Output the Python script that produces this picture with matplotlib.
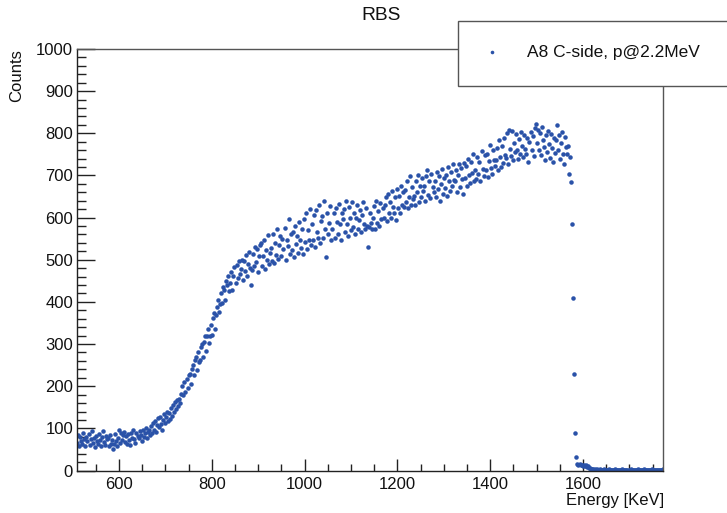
import numpy as np
import matplotlib
matplotlib.use("Agg")
import matplotlib.pyplot as plt
from matplotlib.ticker import MultipleLocator
from matplotlib.patches import Rectangle
from matplotlib.lines import Line2D

plt.rcParams['font.family'] = ['Liberation Sans', 'DejaVu Sans']

# Detector calibration: energy of channel i = E0 + GAIN * i  [keV]
E0 = 510.0
GAIN = 2.2

# Counts per channel
counts_low = [
    66, 84, 58, 79, 71, 62, 88, 74, 57, 80,
    69, 86, 61, 75, 93, 65, 78, 55, 83, 70,
    62, 87, 73, 58, 80, 94, 68, 60, 82, 74,
    77, 57, 84, 64, 73, 52, 63, 86, 70, 59,
    78, 95, 66, 88, 72, 84, 92, 68, 82, 64,
    86, 72, 60, 90, 78, 96, 74, 66, 88, 82,
    76, 93, 84, 70, 97, 80, 89, 100, 78, 92,
    96, 84, 106, 90, 112, 97, 118, 92, 108, 124,
    104, 128, 110, 95, 120, 134, 112, 126, 138, 118,
    136, 122, 148, 130, 156, 138, 162, 146, 168, 152,
]
counts_rise = [
    170, 160, 182, 200, 178, 210, 186, 218, 196, 226,
    230, 206, 242, 250, 226, 262, 270, 238, 280, 258,
    262, 292, 300, 270, 306, 320, 284, 318, 336, 302,
    318, 346, 322, 362, 374, 336, 368, 388, 404, 376,
    394, 420, 398, 436, 428, 404, 450, 440, 462, 426,
    444, 470, 428, 462, 484, 446, 488, 456, 496, 466,
    478, 500, 452, 496, 474, 512, 462, 490, 518, 480,
    440, 476, 514, 486, 530, 494, 526, 470, 508, 536,
]
counts_mid = [
    540, 486, 510, 546, 478, 522, 500, 558, 490, 516,
    528, 498, 562, 492, 540, 512, 572, 502, 534, 556,
    508, 550, 526, 576, 500, 548, 532, 596, 514, 560,
    524, 566, 506, 580, 538, 556, 516, 590, 546, 528,
    572, 514, 596, 542, 612, 526, 570, 548, 620, 536,
    584, 546, 606, 530, 618, 566, 552, 630, 540, 592,
    604, 552, 640, 572, 506, 612, 560, 588, 628, 548,
    574, 610, 552, 622, 590, 560, 632, 584, 548, 612,
    596, 620, 566, 640, 584, 556, 626, 600, 570, 636,
    578, 612, 560, 598, 630, 572, 594, 618, 566, 606,
    637, 586, 572, 622, 580, 530, 578, 610, 588, 574,
    598, 628, 574, 640, 588, 616, 580, 634, 596, 622,
    600, 630, 648, 592, 656, 612, 636, 598, 662, 624,
    610, 648, 594, 668, 622, 652, 612, 676, 630, 660,
]
counts_high = [
    624, 666, 638, 686, 622, 650, 698, 630, 672, 644,
    652, 630, 688, 660, 702, 636, 674, 648, 694, 662,
    676, 640, 698, 712, 654, 686, 646, 704, 672, 660,
    688, 648, 708, 668, 698, 640, 680, 716, 656, 694,
    670, 702, 652, 720, 688, 662, 708, 676, 728, 690,
    686, 712, 660, 702, 726, 672, 718, 692, 656, 730,
    694, 722, 676, 740, 700, 682, 732, 706, 752, 688,
    714, 692, 744, 704, 732, 686, 758, 716, 698, 748,
    712, 752, 696, 734, 772, 718, 704, 760, 736, 722,
    736, 764, 712, 784, 744, 720, 770, 730, 790, 748,
    742, 800, 726, 808, 762, 746, 806, 736, 778, 756,
    798, 760, 738, 786, 752, 804, 770, 744, 796, 762,
    752, 790, 732, 780, 802, 760, 794, 746, 812, 822,
    776, 808, 760, 800, 748, 814, 784, 768, 736, 796,
    756, 806, 774, 742, 798, 766, 732, 790, 754, 784,
    819, 760, 796, 740, 778, 804, 750, 726, 792, 768,
]
counts_edge = [752, 770, 703, 744, 684, 584, 409, 229, 89, 33]
counts_tail = [
    15, 13, 16, 12, 14, 11, 13, 10, 12, 9,
    11, 7, 5, 4, 3, 4, 2, 3, 2, 3,
    2, 1, 3, 2, 1, 2, 3, 1, 2, 2,
    1, 3, 2, 1, 2, 1, 2, 3, 1, 2,
    2, 1, 1, 2, 3, 1, 2, 1, 2, 2,
    1, 2, 3, 1, 2, 1, 1, 2, 2, 3,
    1, 2, 1, 2, 1, 3, 2, 1, 2, 1,
    2, 1, 2, 3, 1, 2, 1, 2, 1, 2,
    1, 2, 2, 1, 3,
]

counts = np.array(counts_low + counts_rise + counts_mid + counts_high
                  + counts_edge + counts_tail, dtype=float)
energy = E0 + GAIN * np.arange(len(counts))

x_ticks = [600, 800, 1000, 1200, 1400, 1600]
y_ticks = [0, 100, 200, 300, 400, 500, 600, 700, 800, 900, 1000]

series_label = "A8 C-side, p@2.2MeV"
title_text = "RBS"
x_title = "Energy [KeV]"
y_title = "Counts"

dot_color = '#2a52a8'

fig = plt.figure(figsize=(7.27, 5.13), dpi=100)
ax = fig.add_axes([0.1063, 0.0828, 0.8061, 0.8217])

ax.plot(energy, counts, linestyle='none', marker='o', ms=3.25,
        mew=0, color=dot_color)

ax.set_xlim(510, 1773)
ax.set_ylim(0, 1000)
ax.set_xticks(x_ticks)
ax.set_yticks(y_ticks)
ax.xaxis.set_minor_locator(MultipleLocator(50))
ax.yaxis.set_minor_locator(MultipleLocator(20))

ax.tick_params(axis='both', which='both', direction='in', color='#222222',
               width=1.0, labelsize=12, labelcolor='#111111')
ax.tick_params(axis='x', which='major', length=9, pad=5)
ax.tick_params(axis='x', which='minor', length=4.8)
ax.tick_params(axis='y', which='major', length=13, pad=3)
ax.tick_params(axis='y', which='minor', length=6.5)
ax.tick_params(top=False, right=False, which='both')
for s in ax.spines.values():
    s.set_linewidth(1.0)
    s.set_color('#222222')
for s in ('top', 'right'):
    ax.spines[s].set_color('#555555')

fig.text(381 / 727, 1 - 16 / 513, title_text, ha='center', va='center',
         fontsize=13.8, color='#111111')
fig.text(17 / 727, 1 - 49 / 513, y_title, rotation=90, ha='center', va='top',
         fontsize=12, color='#111111')
fig.text(664 / 727, 1 - 505 / 513, x_title, ha='right', va='baseline',
         fontsize=12, color='#111111')

# Legend box overlapping the top-right corner of the frame
lx0, ly0 = 458.3 / 727, 1 - 85.7 / 513
lw, lh = 1.0, 65 / 513
box = Rectangle((lx0, ly0), lw, lh, transform=fig.transFigure,
                facecolor='white', edgecolor='#555555', linewidth=1.0,
                zorder=10, clip_on=False)
fig.patches.append(box)
fig.lines.append(Line2D([492.3 / 727], [1 - 52.3 / 513], transform=fig.transFigure,
                        marker='o', ms=2.6, mew=0, color=dot_color,
                        linestyle='none', zorder=11))
fig.text(527 / 727, 1 - 52.3 / 513, series_label, ha='left', va='center',
         fontsize=12.5, color='#111111', zorder=12)

fig.savefig('out.png', dpi=100)
